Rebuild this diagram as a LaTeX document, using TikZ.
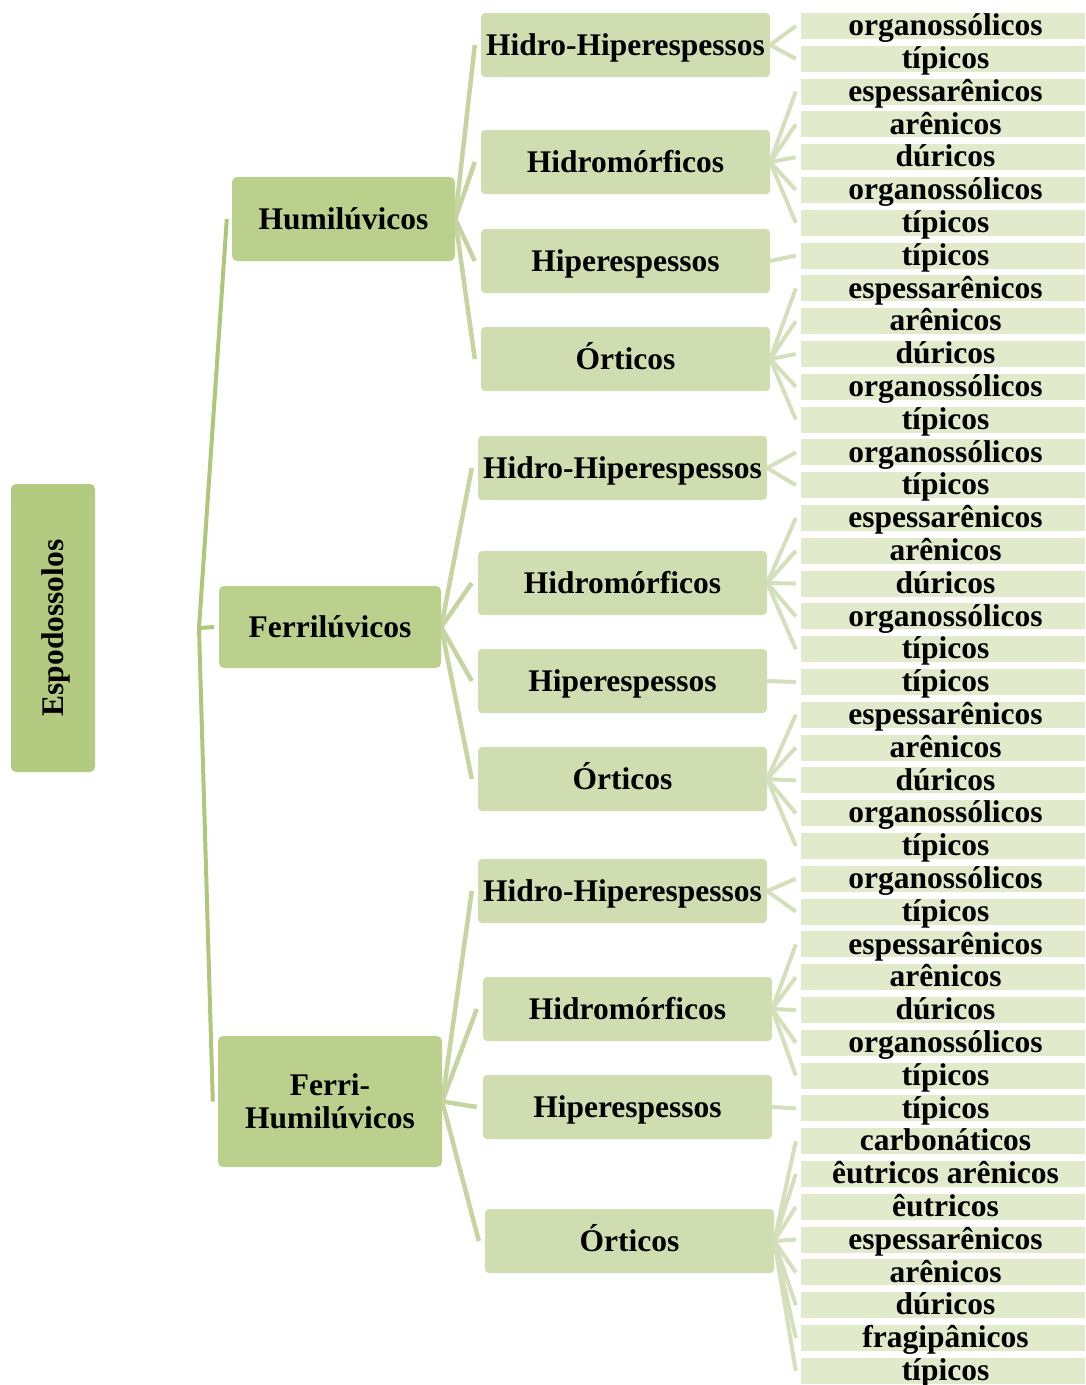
\documentclass[tikz,border=0pt]{standalone}
\usepackage{fontspec}
\setmainfont{Liberation Serif}
\usetikzlibrary{backgrounds}
\definecolor{rootc}{HTML}{B3CB80}
\definecolor{lonec}{HTML}{BCD08D}
\definecolor{ltwoc}{HTML}{CFDDB0}
\definecolor{leafc}{HTML}{E2EACC}
\definecolor{conone}{HTML}{AEC77B}
\definecolor{contwo}{HTML}{C4D5A2}
\definecolor{conthree}{HTML}{D4E0BC}
\tikzset{
  base/.style={rectangle, inner sep=0pt, font=\fontsize{31.5}{33}\selectfont\bfseries, text=black},
  rootbox/.style={base, fill=rootc, rounded corners=5pt},
  lonebox/.style={base, fill=lonec, rounded corners=5pt},
  ltwobox/.style={base, fill=ltwoc, rounded corners=4pt, minimum width=289pt, minimum height=64pt, text height=20.8pt, text depth=0pt},
  leafbox/.style={base, fill=leafc, minimum width=284pt, minimum height=26pt, text height=19.5pt, text depth=0pt},
  linkone/.style={draw=conone, line width=4pt},
  linktwo/.style={draw=contwo, line width=4.5pt},
  linkthree/.style={draw=conthree, line width=4pt},
}
\begin{document}
\begin{tikzpicture}[x=1pt,y=-1pt]
\useasboundingbox (0,0) rectangle (1085,1385);
% root
\node[rootbox, minimum width=84pt, minimum height=288pt] (root) at (53,628) {};
\node[base, rotate=90, anchor=base] (roottext) at (63.5,628) {Espodossolos};
% level 1
\node[lonebox, minimum width=223pt, minimum height=84pt, text height=20.8pt, text depth=0pt] (a) at (343.5,219) {Humilúvicos};
\node[lonebox, minimum width=222pt, minimum height=82pt, text height=20.8pt, text depth=0pt] (b) at (330,627) {Ferrilúvicos};
\node[lonebox, minimum width=224pt, minimum height=131pt, align=center] (c) at (330,1101.5) {Ferri-\\Humilúvicos};
\coordinate (hub) at (199,628);
% level 2
\node[ltwobox] (a1) at (625.5,45) {Hidro-Hiperespessos};
\node[ltwobox] (a2) at (625.5,162) {Hidromórficos};
\node[ltwobox] (a3) at (625.5,261) {Hiperespessos};
\node[ltwobox] (a4) at (625.5,359) {Órticos};
\node[ltwobox] (b1) at (622.5,468) {Hidro-Hiperespessos};
\node[ltwobox] (b2) at (622.5,583) {Hidromórficos};
\node[ltwobox] (b3) at (622.5,681) {Hiperespessos};
\node[ltwobox] (b4) at (622.5,779) {Órticos};
\node[ltwobox] (c1) at (622.5,891) {Hidro-Hiperespessos};
\node[ltwobox] (c2) at (627.5,1009) {Hidromórficos};
\node[ltwobox] (c3) at (627.5,1107) {Hiperespessos};
\node[ltwobox] (c4) at (629.5,1241) {Órticos};
% leaves
\foreach \t [count=\i from 0] in {organossólicos, típicos, espessarênicos, arênicos, dúricos, organossólicos, típicos, típicos, espessarênicos, arênicos, dúricos, organossólicos, típicos, organossólicos, típicos, espessarênicos, arênicos, dúricos, organossólicos, típicos, típicos, espessarênicos, arênicos, dúricos, organossólicos, típicos, organossólicos, típicos, espessarênicos, arênicos, dúricos, organossólicos, típicos, típicos, carbonáticos, êutricos arênicos, êutricos, espessarênicos, arênicos, dúricos, fragipânicos, típicos}
  {\node[leafbox] (L\i) at (943,{26+32.8*\i}) {\hspace*{5pt}\t};}
% connectors
\begin{scope}[on background layer]
  \foreach \n in {a,b,c} {\draw[linkone] (hub) -- ([xshift=-5pt]\n.west);}
  \foreach \p/\q in {a/a1,a/a2,a/a3,a/a4,b/b1,b/b2,b/b3,b/b4,c/c1,c/c2,c/c3,c/c4}
    {\draw[linktwo] (\p.east) -- ([xshift=-6pt]\q.west);}
  \foreach \p/\f/\l in {a1/0/1, a2/2/6, a3/7/7, a4/8/12, b1/13/14, b2/15/19, b3/20/20, b4/21/25, c1/26/27, c2/28/32, c3/33/33, c4/34/41}
    {\foreach \k in {\f,...,\l} {\draw[linkthree] (\p.east) -- ([xshift=-5pt]L\k.west);}}
\end{scope}
\end{tikzpicture}
\end{document}
